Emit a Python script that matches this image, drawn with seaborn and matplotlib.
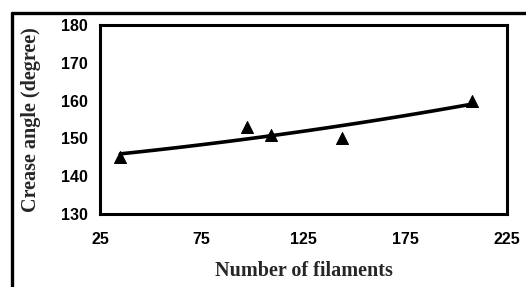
import numpy as np
import pandas as pd
import matplotlib
matplotlib.use("Agg")
import matplotlib.pyplot as plt
import seaborn as sns
from matplotlib.lines import Line2D

# data
filaments = [35, 97, 109, 144, 208]
crease_angle = [145, 153, 151, 150, 160]
x_ticks = [25, 75, 125, 175, 225]
y_ticks = [130, 140, 150, 160, 170, 180]

df = pd.DataFrame({"filaments": filaments, "crease": crease_angle})

sns.set_style("white")
plt.rcParams["font.family"] = ["Liberation Sans", "DejaVu Sans"]

fig = plt.figure(figsize=(5.26, 2.87), dpi=100)
ax = fig.add_axes([0.190, 0.254, 0.774, 0.659])

# polynomial trendline (like the Excel one) plus the triangle markers
sns.regplot(data=df, x="filaments", y="crease", order=2, ci=None, ax=ax,
            scatter=False, line_kws={"color": "black", "lw": 2.6})
sns.scatterplot(data=df, x="filaments", y="crease", ax=ax, marker="^",
                color="black", s=75, edgecolor="black", zorder=5)

ax.set_xlim(25, 225)
ax.set_ylim(130, 180)
ax.set_xticks(x_ticks)
ax.set_yticks(y_ticks)
ax.tick_params(direction="out", length=5, width=2, colors="black",
               labelsize=11.5, pad=4)
for lab in ax.get_xticklabels() + ax.get_yticklabels():
    lab.set_fontweight("bold")
ax.tick_params(axis="x", pad=8)
for s in ax.spines.values():
    s.set_color("black")
    s.set_linewidth(2.2)

ax.set_xlabel("Number of filaments", family="Liberation Serif",
              fontweight="bold", fontsize=14.5, labelpad=10)
ax.set_ylabel("Crease angle (degree)", family="Liberation Serif",
              fontweight="bold", fontsize=14.5, labelpad=14)

# outer frame (cut off at right and bottom in the original)
fig.add_artist(Line2D([0.0228, 1.0], [0.955, 0.955], color="black", lw=2.4,
                      transform=fig.transFigure))
fig.add_artist(Line2D([0.0228, 0.0228], [0.955, 0.0], color="black", lw=2.4,
                      transform=fig.transFigure))

fig.savefig("out.png", dpi=100)
